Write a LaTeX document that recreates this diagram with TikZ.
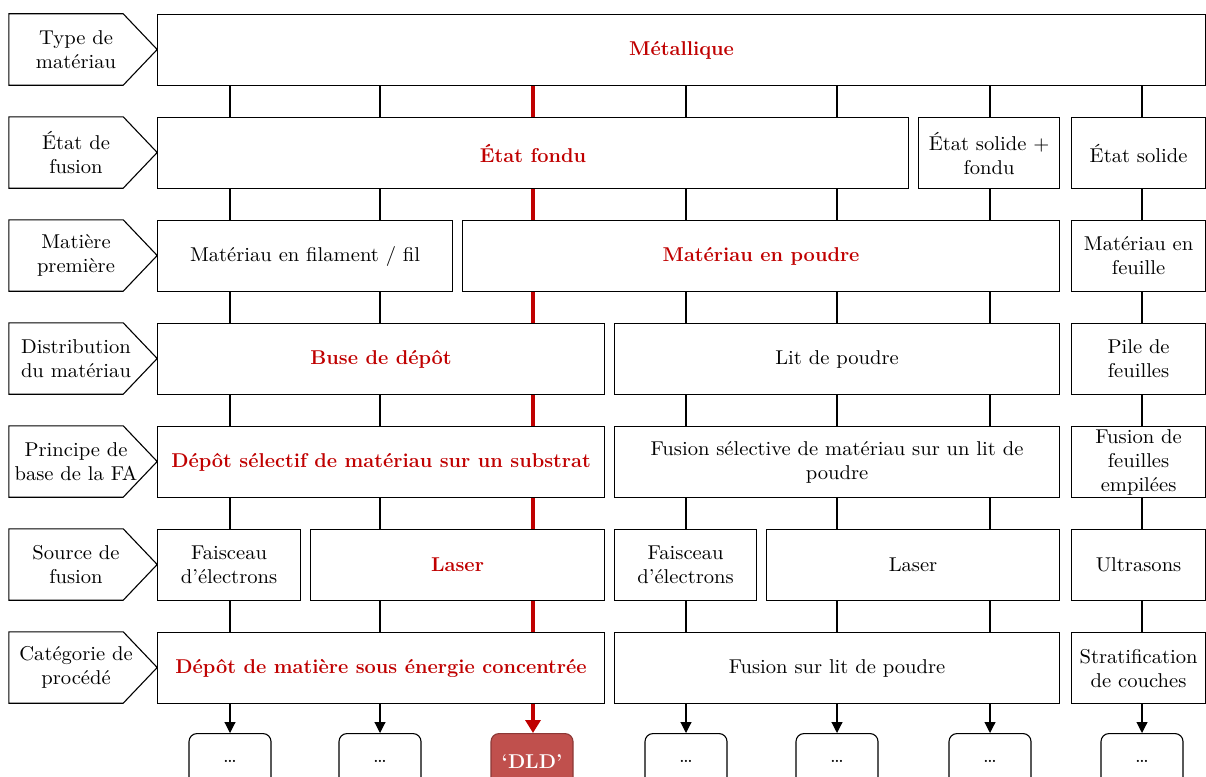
\documentclass[tikz,border=0pt]{standalone}
\usepackage{fontspec}
\newfontfamily\widefont{lmroman10-regular}[Extension=.otf, FakeStretch=1.03]
\usetikzlibrary{arrows.meta}
\definecolor{fared}{RGB}{192,0,0}
\definecolor{dldfill}{RGB}{192,80,77}
\definecolor{dlddraw}{RGB}{140,56,54}
\tikzset{
  box/.style={draw, fill=white, line width=1.1pt, anchor=north west, minimum height=71pt, inner sep=0pt, align=center, font=\widefont\fontsize{20}{24}\selectfont},
  hot/.style={box, text=fared, font=\fontsize{20}{24}\selectfont\bfseries},
  tag/.style={minimum width=134pt, minimum height=71pt, inner sep=0pt, align=center, font=\widefont\fontsize{20}{24}\selectfont},
  leaf/.style={draw, fill=white, rounded corners=8pt, line width=1.1pt, anchor=north, minimum width=82pt, minimum height=56pt, font=\widefont\fontsize{20}{24}\selectfont},
  link/.style={line width=1.1pt},
  redlink/.style={line width=4pt, draw=fared},
}
\begin{document}
\begin{tikzpicture}[x=1pt,y=-1pt]
	\clip (0,0) rectangle (1206,776);
	
	% columns
	\coordinate (c1) at (230,0);
	\coordinate (c2) at (380,0);
	\coordinate (c3) at (533,0);
	\coordinate (c4) at (686,0);
	\coordinate (c5) at (837,0);
	\coordinate (c6) at (990,0);
	\coordinate (c7) at (1142,0);
	
	% row labels
	\node[tag] (t1) at (76,49.5) {Type de\\matériau};
	\node[tag] (t2) at (76,152.5) {État de\\fusion};
	\node[tag] (t3) at (76,255.5) {Matière\\première};
	\node[tag] (t4) at (76,358.5) {Distribution\\du matériau};
	\node[tag] (t5) at (76,461.5) {Principe de\\base de la FA};
	\node[tag] (t6) at (76,564.5) {Source de\\fusion};
	\node[tag] (t7) at (76,667.5) {Catégorie de\\procédé};
	\foreach \t in {t1,t2,t3,t4,t5,t6,t7}
		\draw[link] (\t.north west) -- ([xshift=-20pt]\t.north east) -- ([xshift=14pt]\t.east)
			-- ([xshift=-20pt]\t.south east) -- (\t.south west) -- cycle;
	
	% row 1
	\node[hot, minimum width=1048pt] (met) at (157,14) {Métallique};
	% row 2
	\node[hot, minimum width=751pt] (fondu) at (157,117) {État fondu};
	\node[box, minimum width=141pt] (solfondu) at (918,117) {État solide +\\fondu};
	\node[box, minimum width=134pt] (solide) at (1071,117) {État solide};
	% row 3
	\node[box, minimum width=295pt] (fil) at (157,220) {Matériau en filament / fil};
	\node[hot, minimum width=597pt] (poudre) at (462,220) {Matériau en poudre};
	\node[box, minimum width=134pt] (feuille) at (1071,220) {Matériau en\\feuille};
	% row 4
	\node[hot, minimum width=447pt] (buse) at (157,323) {Buse de dépôt};
	\node[box, minimum width=445pt] (lit) at (614,323) {Lit de poudre};
	\node[box, minimum width=134pt] (pile) at (1071,323) {Pile de\\feuilles};
	% row 5
	\node[hot, minimum width=447pt] (depot) at (157,426) {Dépôt sélectif de matériau sur un substrat};
	\node[box, minimum width=445pt] (fusel) at (614,426) {Fusion sélective de matériau sur un lit de\\poudre};
	\node[box, minimum width=134pt] (empil) at (1071,426) {Fusion de\\feuilles\\empilées};
	% row 6
	\node[box, minimum width=143pt] (feA) at (157,529) {Faisceau\\d’électrons};
	\node[hot, minimum width=294pt] (laserA) at (310,529) {Laser};
	\node[box, minimum width=142pt] (feB) at (614,529) {Faisceau\\d’électrons};
	\node[box, minimum width=293pt] (laserB) at (766,529) {Laser};
	\node[box, minimum width=134pt] (ultra) at (1071,529) {Ultrasons};
	% row 7
	\node[hot, minimum width=447pt] (ded) at (157,632) {Dépôt de matière sous énergie concentrée};
	\node[box, minimum width=445pt] (lbf) at (614,632) {Fusion sur lit de poudre};
	\node[box, minimum width=134pt] (strat) at (1071,632) {Stratification\\de couches};
	
	% outcomes
	\node[leaf] (b1) at (230,733) {…};
	\node[leaf] (b2) at (380,733) {…};
	\node[leaf, fill=dldfill, draw=dlddraw, text=white, font=\fontsize{20}{24}\selectfont\bfseries] (dld) at (532,733) {‘DLD’};
	\node[leaf] (b4) at (686,733) {…};
	\node[leaf] (b5) at (837,733) {…};
	\node[leaf] (b6) at (990,733) {…};
	\node[leaf] (b7) at (1142,733) {…};
	
	% links
	\foreach \c/\u/\l in {1/met/fondu,2/met/fondu,4/met/fondu,5/met/fondu,6/met/solfondu,7/met/solide}
		\draw[link] (\u.south -| c\c) -- (\l.north -| c\c);
	\foreach \c/\u/\l in {1/fondu/fil,2/fondu/fil,4/fondu/poudre,5/fondu/poudre,6/solfondu/poudre,7/solide/feuille}
		\draw[link] (\u.south -| c\c) -- (\l.north -| c\c);
	\foreach \c/\u/\l in {1/fil/buse,2/fil/buse,4/poudre/lit,5/poudre/lit,6/poudre/lit,7/feuille/pile}
		\draw[link] (\u.south -| c\c) -- (\l.north -| c\c);
	\foreach \c/\u/\l in {1/buse/depot,2/buse/depot,4/lit/fusel,5/lit/fusel,6/lit/fusel,7/pile/empil}
		\draw[link] (\u.south -| c\c) -- (\l.north -| c\c);
	\foreach \c/\u/\l in {1/depot/feA,2/depot/laserA,4/fusel/feB,5/fusel/laserB,6/fusel/laserB,7/empil/ultra}
		\draw[link] (\u.south -| c\c) -- (\l.north -| c\c);
	\foreach \c/\u/\l in {1/feA/ded,2/laserA/ded,4/feB/lbf,5/laserB/lbf,6/laserB/lbf,7/ultra/strat}
		\draw[link] (\u.south -| c\c) -- (\l.north -| c\c);
	\foreach \c/\u/\l in {1/ded/b1,2/ded/b2,4/lbf/b4,5/lbf/b5,6/lbf/b6,7/strat/b7}
		\draw[link, -{Triangle[length=11pt,width=11pt]}] (\u.south -| c\c) -- (\l.north);
	
	% path of the DLD process
	\foreach \u/\l in {met/fondu,fondu/poudre,poudre/buse,buse/depot,depot/laserA,laserA/ded}
		\draw[redlink] (\u.south -| c3) -- (\l.north -| c3);
	\draw[redlink, -{Triangle[length=13pt,width=15pt]}] (ded.south -| c3) -- (dld.north -| c3);
	
\end{tikzpicture}
\end{document}
